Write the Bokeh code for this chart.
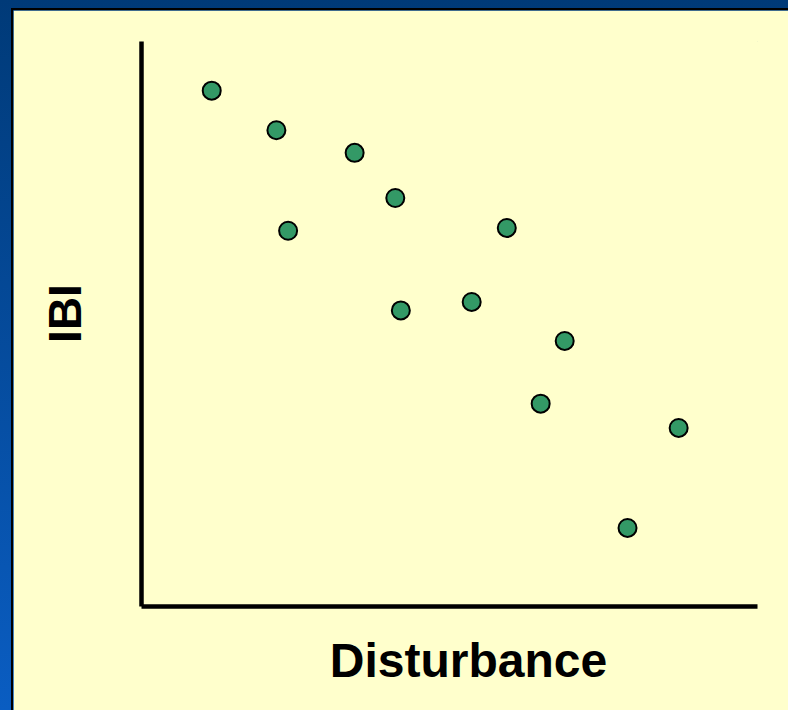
import math
from bokeh.plotting import figure
from bokeh.embed import file_html
from bokeh.resources import INLINE
from bokeh.models import FixedTicker, Label, GlobalInlineStyleSheet

# Data (arbitrary units, no ticks in the original chart)
disturbance = [11.4, 21.9, 23.8, 34.6, 41.2, 42.1, 53.6, 59.3, 68.7, 64.8, 87.2, 78.9]
ibi = [91.3, 84.3, 66.5, 80.3, 72.3, 52.4, 53.9, 67.0, 47.0, 35.9, 31.6, 13.9]
x_label = "Disturbance"
y_label = "IBI"

BG = "#FFFFCC"
FONT = "Liberation Sans"

page_css = GlobalInlineStyleSheet(css="""
html, body { overflow: hidden; }
html { background: linear-gradient(180deg, #003a78 0%, #0a5dc2 100%); }
body { margin: 8px 0 0 11px; border-top: 2px solid #000; border-left: 2px solid #000; background: transparent; }
""")

p = figure(width=775, height=700, x_range=(0, 100), y_range=(0, 100),
           output_backend="svg", toolbar_location=None,
           min_border_left=128, min_border_right=31,
           min_border_top=31, min_border_bottom=104)
p.stylesheets = [page_css]

p.background_fill_color = BG
p.border_fill_color = BG
p.outline_line_color = BG
p.outline_line_width = 1
p.grid.visible = False

for ax in (p.xaxis, p.yaxis):
    ax.ticker = FixedTicker(ticks=[])
    ax.major_tick_out = 0
    ax.major_tick_in = 0
    ax.minor_tick_out = 0
    ax.minor_tick_in = 0
    ax.major_label_text_font_size = "0px"
    ax.major_label_standoff = 0
    ax.axis_line_width = 4.5
    ax.axis_line_color = "black"

# Axis titles placed in the side panels (not clipped to the frame)
p.add_layout(Label(x=327, y=-1, x_units="screen", y_units="screen",
                   text=x_label, text_font=FONT, text_font_style="bold",
                   text_font_size="48px", text_color="black",
                   text_align="center", text_baseline="alphabetic"), "below")
p.add_layout(Label(x=-25, y=293, x_units="screen", y_units="screen",
                   angle=math.pi / 2,
                   text=y_label, text_font=FONT, text_font_style="bold",
                   text_font_size="46px", text_color="black",
                   text_align="center", text_baseline="alphabetic"), "left")

p.scatter(disturbance, ibi, size=18, fill_color="#339966",
          line_color="black", line_width=2)

open("out.html", "w").write(file_html(p, INLINE))
